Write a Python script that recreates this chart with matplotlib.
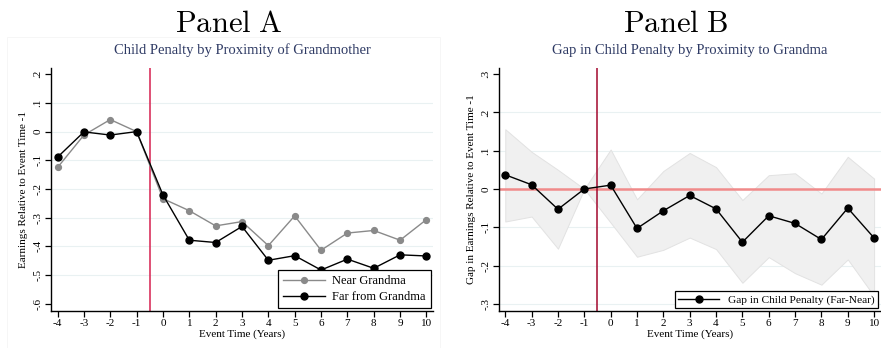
import numpy as np
import matplotlib.pyplot as plt
from matplotlib.patches import Rectangle

plt.rcParams['font.family'] = ['Liberation Serif', 'DejaVu Serif']
plt.rcParams['mathtext.fontset'] = 'cm'

# event time relative to birth of first child
years = [-4, -3, -2, -1, 0, 1, 2, 3, 4, 5, 6, 7, 8, 9, 10]

# Panel A: earnings relative to event time -1
near_grandma = [-0.125, -0.012, 0.042, 0.0, -0.234, -0.276, -0.329, -0.314,
                -0.398, -0.294, -0.414, -0.354, -0.345, -0.379, -0.307]
far_grandma = [-0.089, -0.001, -0.012, 0.0, -0.221, -0.379, -0.387, -0.331,
               -0.449, -0.433, -0.483, -0.445, -0.477, -0.430, -0.434]

# Panel B: gap (far - near) with 95% CI
gap = [0.037, 0.011, -0.053, 0.0, 0.010, -0.103, -0.057, -0.017,
       -0.052, -0.139, -0.070, -0.090, -0.132, -0.050, -0.128]
gap_hi = [0.156, 0.097, 0.050, 0.0, 0.103, -0.027, 0.047, 0.094,
          0.057, -0.029, 0.036, 0.041, -0.012, 0.084, 0.027]
gap_lo = [-0.085, -0.072, -0.156, 0.0, -0.088, -0.177, -0.159, -0.127,
          -0.157, -0.245, -0.178, -0.220, -0.250, -0.184, -0.280]

yticks_a = [0.2, 0.1, 0, -0.1, -0.2, -0.3, -0.4, -0.5, -0.6]
yticks_b = [0.3, 0.2, 0.1, 0, -0.1, -0.2, -0.3]


def stata_label(v):
    if abs(v) < 1e-9:
        return '0'
    s = '%.1f' % v
    return s.replace('0.', '.')


def style_axes(ax, yticks, ylim, ylabel, grid_skip):
    ax.set_xlim(-4.25, 10.25)
    ax.set_ylim(*ylim)
    ax.set_xticks(years)
    ax.set_xticklabels([str(y) for y in years], fontsize=8)
    ax.set_yticks(yticks)
    ax.set_yticklabels([stata_label(v) for v in yticks], fontsize=8,
                       rotation=90, va='center')
    for v in yticks:
        if v in grid_skip:
            continue
        ax.axhline(v, color='#e9f1f2', lw=0.8, zorder=0)
    for side in ['top', 'right']:
        ax.spines[side].set_visible(False)
    for side in ['left', 'bottom']:
        ax.spines[side].set_linewidth(1.0)
    ax.tick_params(direction='out', length=4, width=0.9, pad=2)
    ax.set_xlabel('Event Time (Years)', fontsize=8, labelpad=1)
    ax.set_ylabel(ylabel, fontsize=8, labelpad=4)


fig = plt.figure(figsize=(8.81, 3.48), dpi=100)

# faint frame round the left graph region
fig.patches.append(Rectangle((7 / 881, 0), 433 / 881, 1 - 37 / 348,
                             transform=fig.transFigure, fill=False,
                             edgecolor='#f5f5f5', lw=0.6))

ax1 = fig.add_axes([51 / 881, 37.3 / 348, 382 / 881, 242.7 / 348])
ax2 = fig.add_axes([498.7 / 881, 37.3 / 348, 382 / 881, 242.7 / 348])

# Panel A
style_axes(ax1, yticks_a, (-0.625, 0.222),
           'Earnings Relative to Event Time -1', [0.2, -0.6])
ax1.axvline(-0.5, color='#d6214f', lw=1.1, zorder=1)
ax1.plot(years, near_grandma, color='#8a8a8a', lw=1.0, marker='o',
         markersize=4.2, label='Near Grandma', zorder=3)
ax1.plot(years, far_grandma, color='black', lw=1.0, marker='o',
         markersize=5.0, label='Far from Grandma', zorder=4)
leg1 = ax1.legend(loc='lower right', fontsize=9, frameon=True, fancybox=False,
                  edgecolor='black', framealpha=1, borderaxespad=0.2,
                  handlelength=3.3, handletextpad=0.6, labelspacing=0.3,
                  borderpad=0.4)
leg1.get_frame().set_linewidth(0.9)
ax1.set_title('Child Penalty by Proximity of Grandmother', fontsize=10.5,
              color='#2e3a64', pad=10)

# Panel B
style_axes(ax2, yticks_b, (-0.318, 0.316),
           'Gap in Earnings Relative to Event Time -1', [0.3])
ax2.fill_between(years, gap_lo, gap_hi, color='#f0f0f0', edgecolor='#e2e2e2',
                 lw=0.7, zorder=1)
ax2.axhline(0, color='#f08a8a', lw=1.8, zorder=2)
ax2.axvline(-0.5, color='#a3082e', lw=1.1, zorder=2)
ax2.plot(years, gap, color='black', lw=1.0, marker='o', markersize=5.0,
         label='Gap in Child Penalty (Far-Near)', zorder=4)
leg2 = ax2.legend(loc='lower right', fontsize=8.2, frameon=True, fancybox=False,
                  edgecolor='black', framealpha=1, borderaxespad=0.2,
                  handlelength=3.6, handletextpad=0.8, borderpad=0.3)
leg2.get_frame().set_linewidth(0.9)
ax2.set_title('Gap in Child Penalty by Proximity to Grandma', fontsize=10.5,
              color='#2e3a64', pad=10)

fig.text(229 / 881, 1 - 25 / 348, r'$\mathrm{Panel\ A}$', fontsize=22,
         ha='center', va='center')
fig.text(676 / 881, 1 - 25 / 348, r'$\mathrm{Panel\ B}$', fontsize=22,
         ha='center', va='center')

fig.savefig('out.png', dpi=100)
